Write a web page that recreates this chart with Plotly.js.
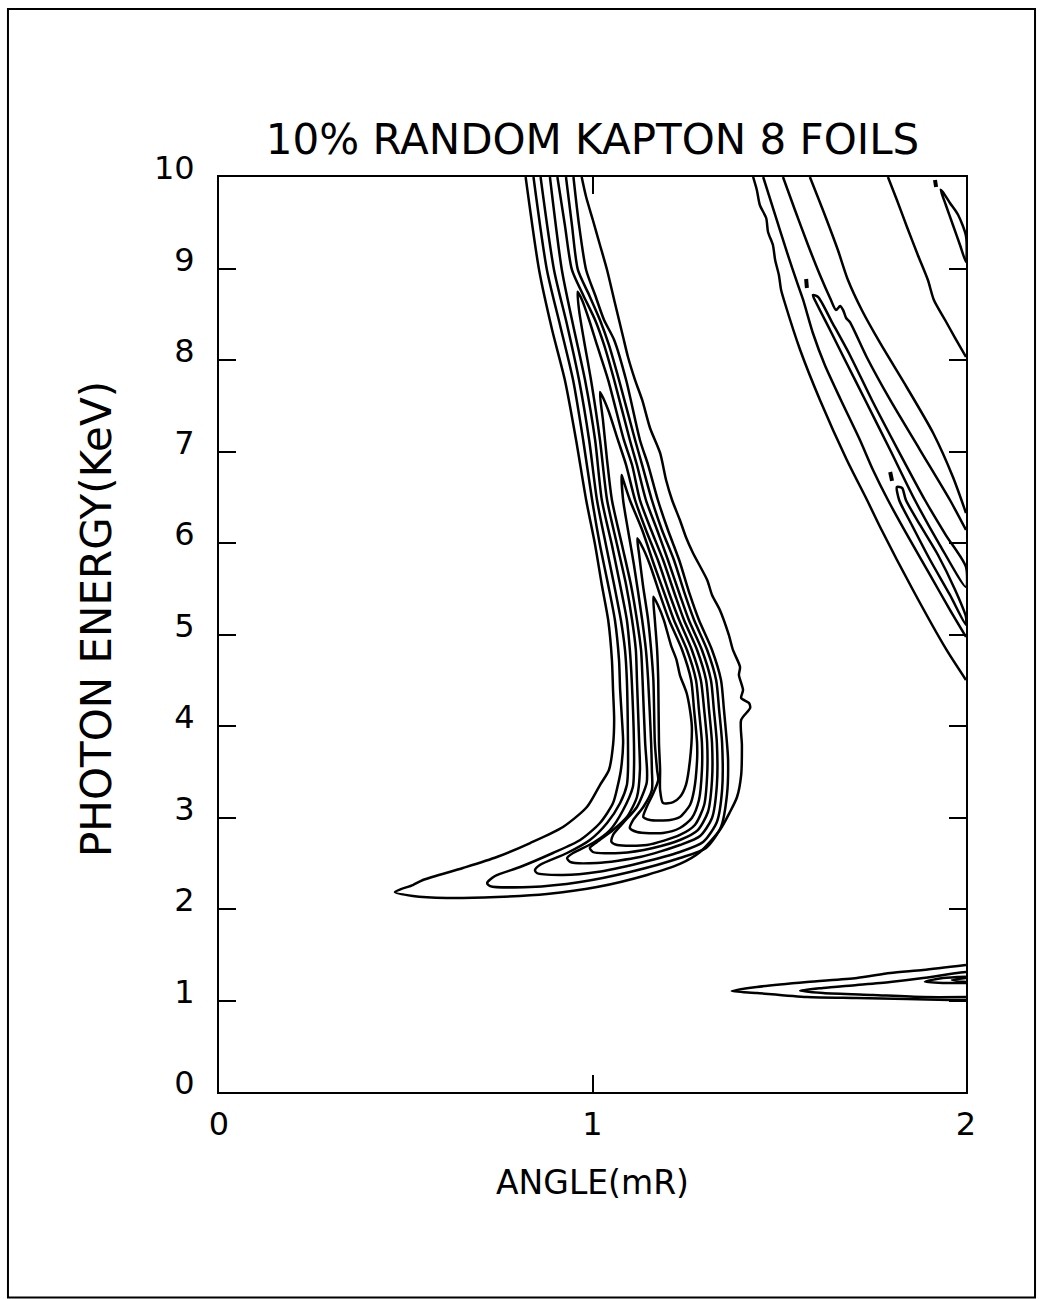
<!DOCTYPE html>
<html>
<head>
<meta charset="utf-8">
<script src="https://cdn.plot.ly/plotly-3.0.1.min.js"></script>
<style>html,body{margin:0;padding:0;background:#fff;}#chart{width:1051px;height:1299px;}</style>
</head>
<body>
<div id="chart"></div>
<script>
// ---- Contour lines: angle (mR) and photon energy (keV) ----
// Main band: nine nested contour levels (outer -> inner)
const lev1Angle = [0.821,0.857,0.892,0.926,0.956,0.983,1.007,1.025,1.042,1.052,1.055,1.058,1.055,1.044,1.020,0.985,0.921,0.833,0.744,0.653,0.546,0.519,0.471,
  0.519,0.610,0.744,0.878,1.012,1.146,1.234,1.288,1.341,1.368,1.387,1.398,1.400,1.398,1.422,1.419,1.398,1.403,1.392,1.395,1.376,1.365,1.341,1.320,1.307,1.269,1.250,1.234,1.213,1.197,1.181,1.154,1.133,1.114,1.095,1.082,1.060,1.039,1.020,1.001,0.983,0.971];
const lev1Energy = [10.0,8.984,8.328,7.781,7.126,6.470,5.978,5.541,5.158,4.721,4.393,4.066,3.792,3.519,3.355,3.115,2.896,2.721,2.568,2.448,2.317,2.262,2.186,
  2.142,2.120,2.131,2.164,2.240,2.372,2.492,2.623,2.863,3.060,3.224,3.464,3.792,4.066,4.197,4.251,4.306,4.393,4.557,4.645,4.831,4.995,5.268,5.432,5.596,5.891,6.066,6.251,6.470,6.689,6.984,7.257,7.563,7.781,8.033,8.251,8.623,8.984,9.257,9.530,9.781,10.0];

const lev2Angle = [0.842,0.878,0.913,0.948,0.975,0.999,1.020,1.042,1.060,1.071,1.074,1.079,1.082,1.076,1.068,1.055,1.020,0.967,0.894,0.806,0.739,0.718,
  0.726,0.833,0.967,1.100,1.234,1.304,1.344,1.360,1.363,1.360,1.352,1.344,1.320,1.285,1.261,1.232,1.202,1.175,1.149,1.127,1.090,1.058,1.031,1.007,0.983,0.964,0.949];
const lev2Energy = [10.0,8.984,8.383,7.781,7.126,6.470,5.978,5.541,5.158,4.721,4.393,4.066,3.814,3.519,3.355,3.158,2.940,2.754,2.612,2.459,2.361,2.284,
  2.251,2.240,2.295,2.404,2.557,2.667,2.896,3.246,3.628,3.814,4.175,4.503,4.831,5.158,5.432,5.814,6.142,6.470,6.852,7.126,7.781,8.219,8.437,8.710,8.984,9.475,10.0];

const lev3Angle = [0.861,0.897,0.932,0.964,0.991,1.012,1.036,1.058,1.076,1.087,1.092,1.095,1.095,1.092,1.074,1.039,0.993,0.932,0.859,0.846,
  0.851,0.921,1.012,1.127,1.234,1.296,1.333,1.347,1.347,1.339,1.331,1.307,1.272,1.248,1.218,1.186,1.159,1.133,1.114,1.071,1.044,1.020,0.991,0.961,0.945,0.929];
const lev3Energy = [10.0,8.984,8.383,7.781,7.126,6.470,5.978,5.541,5.158,4.831,4.503,3.814,3.519,3.355,3.158,2.940,2.754,2.612,2.481,2.426,
  2.393,2.372,2.404,2.503,2.623,2.732,2.951,3.301,3.814,4.175,4.503,4.831,5.158,5.432,5.814,6.142,6.470,6.852,7.126,7.781,8.164,8.437,8.710,8.984,9.475,10.0];

const lev4Angle = [0.886,0.918,0.948,0.980,1.007,1.025,1.052,1.074,1.092,1.100,1.105,1.111,1.111,1.108,1.082,1.047,1.001,0.948,0.932,
  0.940,1.012,1.127,1.234,1.288,1.320,1.333,1.333,1.325,1.317,1.293,1.258,1.234,1.202,1.173,1.143,1.119,1.100,1.058,1.031,1.007,0.975,0.945,0.926,0.906];
const lev4Energy = [10.0,8.984,8.383,7.781,7.126,6.470,5.978,5.541,5.158,4.831,4.503,3.814,3.519,3.333,3.082,2.863,2.721,2.612,2.557,
  2.514,2.503,2.568,2.699,2.798,2.995,3.355,3.814,4.175,4.503,4.831,5.158,5.432,5.814,6.142,6.470,6.852,7.126,7.781,8.164,8.437,8.710,8.984,9.475,10.0];

const lev5Angle = [0.960,0.964,0.977,0.996,1.020,1.039,1.066,1.090,1.106,1.116,1.119,1.125,1.127,1.119,1.092,1.055,1.012,0.993,
  1.001,1.074,1.162,1.234,1.282,1.309,1.320,1.320,1.312,1.304,1.280,1.245,1.221,1.189,1.157,1.127,1.106,1.084,1.042,1.012,0.991,0.972,0.960];
const lev5Energy = [8.746,8.546,8.219,7.781,7.126,6.470,5.978,5.541,5.158,4.831,4.503,3.814,3.519,3.224,3.005,2.863,2.732,2.667,
  2.623,2.612,2.667,2.754,2.863,3.060,3.410,3.814,4.175,4.503,4.831,5.158,5.432,5.814,6.142,6.470,6.852,7.126,7.781,8.164,8.437,8.656,8.746];

const lev6Angle = [1.020,1.028,1.039,1.052,1.079,1.103,1.119,1.130,1.134,1.141,1.146,1.145,1.119,1.082,1.055,1.051,
  1.066,1.146,1.234,1.274,1.299,1.307,1.307,1.299,1.290,1.266,1.232,1.207,1.175,1.143,1.114,1.090,1.068,1.042,1.020];
const lev6Energy = [7.650,7.344,6.907,6.470,5.978,5.541,5.158,4.831,4.503,3.814,3.519,3.377,3.115,2.940,2.809,2.732,
  2.699,2.699,2.809,2.918,3.137,3.464,3.814,4.175,4.503,4.831,5.158,5.432,5.814,6.142,6.470,6.852,7.126,7.454,7.650];

const lev7Angle = [1.078,1.082,1.095,1.111,1.133,1.143,1.149,1.157,1.159,1.159,1.136,1.109,1.100,
  1.119,1.189,1.234,1.266,1.285,1.293,1.293,1.285,1.277,1.253,1.218,1.194,1.165,1.133,1.100,1.084,1.078];
const lev7Energy = [6.743,6.470,6.142,5.760,5.158,4.831,4.503,3.814,3.519,3.301,3.115,2.973,2.885,
  2.842,2.831,2.885,2.995,3.191,3.519,3.814,4.175,4.503,4.831,5.158,5.432,5.760,6.142,6.470,6.667,6.743];

const lev8Angle = [1.120,1.125,1.135,1.149,1.157,1.163,1.167,1.173,1.176,1.163,1.145,1.136,
  1.154,1.208,1.234,1.261,1.272,1.280,1.280,1.272,1.264,1.240,1.205,1.181,1.154,1.135,1.120];
const lev8Energy = [6.051,5.869,5.541,5.158,4.831,4.503,3.814,3.519,3.410,3.268,3.115,3.005,
  2.973,2.973,3.005,3.137,3.301,3.628,3.814,4.175,4.503,4.831,5.158,5.432,5.760,5.945,6.051];

const lev9Angle = [1.163,1.167,1.173,1.176,1.178,1.181,1.181,1.189,1.216,1.234,1.250,1.261,1.266,1.261,1.252,1.234,1.225,1.210,1.191,1.175,1.163];
const lev9Energy = [5.413,5.158,4.831,4.503,3.814,3.519,3.301,3.158,3.169,3.224,3.355,3.628,3.989,4.175,4.361,4.557,4.721,4.885,5.158,5.322,5.413];

// Second band (upper right)
const bandPAngle = [1.430,1.440,1.448,1.465,1.470,1.483,1.489,1.499,1.505,1.515,1.556,1.609,1.681,1.735,1.770,1.858,1.948,2.0];
const bandPEnergy = [10.0,9.858,9.694,9.552,9.399,9.257,9.093,8.929,8.765,8.623,8.109,7.563,6.907,6.470,6.175,5.486,4.831,4.503];
const bandQAngle = [1.457,1.489,1.523,1.550,1.564,1.590,1.622,1.665,1.716,1.751,1.791,1.850,1.904,1.957,2.0];
const bandQEnergy = [10.0,9.585,9.148,8.820,8.656,8.295,7.945,7.563,7.126,6.798,6.470,6.033,5.650,5.268,4.973];
const loopAAngle = [1.590,1.602,1.636,1.676,1.730,1.797,1.863,1.930,2.0,2.0,1.946,1.890,1.818,1.748,1.689,1.641,1.604,1.590];
const loopAEnergy = [8.710,8.601,8.328,8.000,7.563,7.016,6.470,5.978,5.519,5.738,6.087,6.470,7.016,7.563,8.055,8.415,8.689,8.710];
const loopBAngle = [1.815,1.821,1.855,1.904,1.957,2.0,2.0,1.971,1.925,1.877,1.839,1.829,1.815];
const loopBEnergy = [6.612,6.470,6.197,5.814,5.432,5.104,5.191,5.486,5.869,6.197,6.470,6.601,6.612];
const bandTAngle = [1.510,1.542,1.577,1.609,1.636,1.652,1.663,1.671,1.679,1.689,1.734,1.797,1.877,1.957,2.0];
const bandTEnergy = [10.0,9.639,9.257,8.929,8.678,8.546,8.590,8.546,8.459,8.415,8.033,7.563,7.016,6.470,6.142];
const bandUAngle = [1.582,1.622,1.657,1.684,1.721,1.770,1.841,1.912,1.965,2.0];
const bandUEnergy = [10.0,9.585,9.202,8.874,8.546,8.186,7.705,7.202,6.721,6.328];
const bandWAngle = [1.791,1.815,1.842,1.871,1.898,1.914,1.944,1.971,2.0];
const bandWEnergy = [10.0,9.749,9.454,9.148,8.874,8.656,8.437,8.240,8.033];
const loopCAngle = [1.932,1.946,1.965,1.984,2.0,2.0,1.979,1.957,1.938,1.932];
const loopCEnergy = [9.861,9.694,9.475,9.257,9.071,9.355,9.585,9.716,9.836,9.861];
// tiny isolated contour specks
const speck1Angle = [1.572,1.574];  const speck1Energy = [8.885,8.787];
const speck2Angle = [1.797,1.802];  const speck2Energy = [6.776,6.678];
const speck3Angle = [1.917,1.920];  const speck3Energy = [9.967,9.891];

// Low-energy horn (bottom right)
const horn1Angle = [2.0,1.885,1.797,1.708,1.574,1.440,1.373,1.440,1.574,1.708,1.842,1.957,2.0];
const horn1Energy = [1.388,1.333,1.301,1.246,1.202,1.148,1.104,1.082,1.038,1.027,1.016,1.005,1.005];
const horn2Angle = [2.0,1.976,1.885,1.797,1.708,1.617,1.556,1.617,1.751,1.885,2.0];
const horn2Energy = [1.311,1.301,1.246,1.202,1.169,1.137,1.107,1.082,1.060,1.038,1.038];
const horn3Angle = [2.0,1.938,1.890,1.938,2.0];
const horn3Energy = [1.260,1.246,1.205,1.191,1.191];
const horn4Angle = [2.0,1.962,2.0];
const horn4Energy = [1.246,1.224,1.202];

// Axis ticks and texts
const xTicks = [0,1,2];
const yTicks = [0,1,2,3,4,5,6,7,8,9,10];
const titleText = '10% RANDOM KAPTON 8 FOILS';
const xTitle = 'ANGLE(mR)';
const yTitle = 'PHOTON ENERGY(KeV)';

const lines = [
  [lev1Angle, lev1Energy],[lev2Angle, lev2Energy],[lev3Angle, lev3Energy],[lev4Angle, lev4Energy],
  [lev5Angle, lev5Energy],[lev6Angle, lev6Energy],[lev7Angle, lev7Energy],[lev8Angle, lev8Energy],[lev9Angle, lev9Energy],
  [bandPAngle, bandPEnergy],[bandQAngle, bandQEnergy],[loopAAngle, loopAEnergy],[loopBAngle, loopBEnergy],
  [bandTAngle, bandTEnergy],[bandUAngle, bandUEnergy],[bandWAngle, bandWEnergy],[loopCAngle, loopCEnergy],
  [horn1Angle, horn1Energy],[horn2Angle, horn2Energy],[horn3Angle, horn3Energy],[horn4Angle, horn4Energy]
];
const specks = [[speck1Angle, speck1Energy],[speck2Angle, speck2Energy],[speck3Angle, speck3Energy]];

const traces = lines.map(([x, y]) => ({
  x: x, y: y, type: 'scatter', mode: 'lines',
  line: {color: '#000', width: 2.5, shape: 'spline', smoothing: 0.7}, hoverinfo: 'skip', showlegend: false
})).concat(specks.map(([x, y]) => ({
  x: x, y: y, type: 'scatter', mode: 'lines',
  line: {color: '#000', width: 4}, hoverinfo: 'skip', showlegend: false
})));

const FONT = 'DejaVu Sans, Liberation Sans, Arial, sans-serif';
const axisCommon = {
  showline: true, linecolor: '#000', linewidth: 2, mirror: 'ticks',
  ticks: 'inside', ticklen: 17, tickwidth: 2, tickcolor: '#000',
  showgrid: false, zeroline: false, fixedrange: true,
  tickfont: {family: FONT, size: 32, color: '#000'}
};

const layout = {
  width: 1051, height: 1299,
  margin: {l: 219, r: 85, t: 177, b: 207, pad: 0},
  paper_bgcolor: '#fff', plot_bgcolor: '#fff',
  font: {family: FONT, color: '#000'},
  title: {text: titleText, font: {family: FONT, size: 42, color: '#000'},
          x: 0.5, xref: 'paper', xanchor: 'center', y: 1 - 139/1299, yref: 'container', yanchor: 'middle'},
  xaxis: Object.assign({}, axisCommon, {
    range: [0, 2], tickvals: xTicks, ticktext: xTicks.map(String), ticklabelstandoff: 3,
    title: {text: xTitle, font: {family: FONT, size: 33, color: '#000'}, standoff: 28}
  }),
  yaxis: Object.assign({}, axisCommon, {
    range: [0, 10], tickvals: yTicks, ticktext: yTicks.map(String), ticklabelstandoff: 16, ticklabelshift: -9
  }),
  annotations: [{
    text: yTitle, textangle: -90, showarrow: false,
    xref: 'paper', yref: 'paper', x: -0.1633, y: 0.517, xanchor: 'center', yanchor: 'middle',
    font: {family: FONT, size: 42, color: '#000'}
  }],
  shapes: [{type: 'rect', xref: 'paper', yref: 'paper', x0: -0.2825, x1: 1.0924, y0: -0.2246, y1: 1.1836,
            line: {color: '#000', width: 2}, fillcolor: 'rgba(0,0,0,0)'}],
  showlegend: false
};

Plotly.newPlot('chart', traces, layout, {displayModeBar: false, staticPlot: true});
</script>
</body>
</html>
